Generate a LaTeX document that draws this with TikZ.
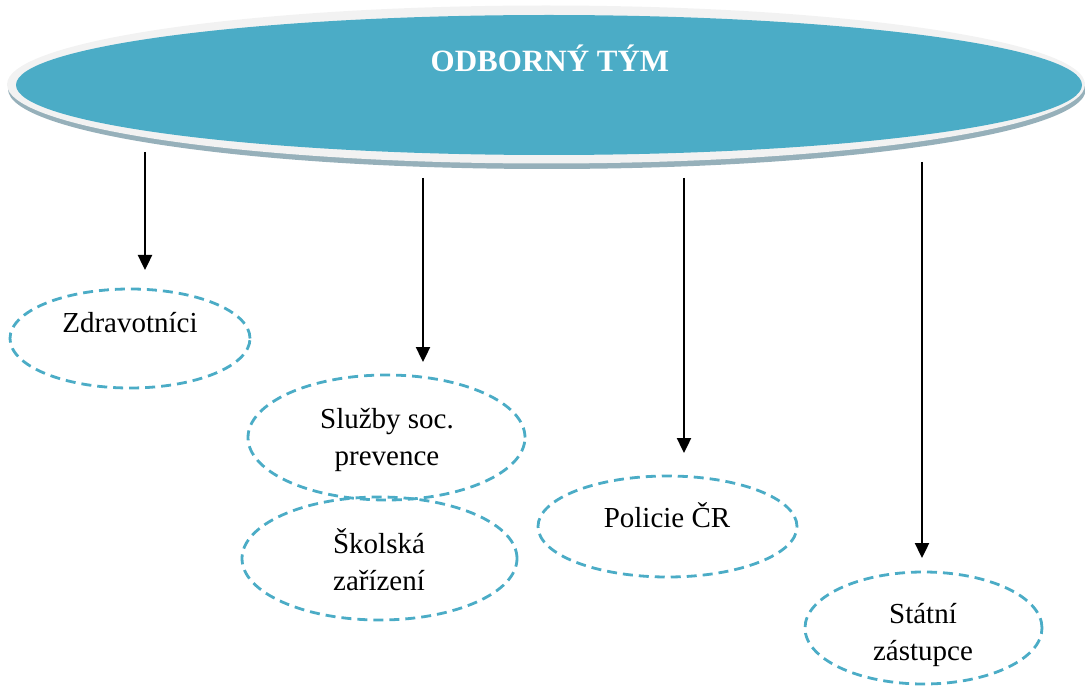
\documentclass[tikz,border=0pt]{standalone}
\usepackage{fontspec}
\setmainfont{Liberation Serif}
\usetikzlibrary{arrows.meta,shapes.geometric}
\definecolor{teal5}{RGB}{75,172,198}
\definecolor{rimlight}{RGB}{242,242,242}
\definecolor{rimshadow}{RGB}{150,176,186}
\tikzset{
  conn/.style={line width=2.4pt,-{Triangle[length=15pt,width=14pt]}},
  member/.style={ellipse,draw=teal5,line width=2.8pt,dash pattern=on 10pt off 6pt,inner sep=0pt},
  lbl/.style={font=\fontsize{29}{37}\selectfont,align=center,anchor=base,inner sep=0pt},
}
\begin{document}
\begin{tikzpicture}[x=1pt,y=-1pt]
\useasboundingbox (0,0) rectangle (1085,687);
% main ellipse with rim and shadow
\fill[rimshadow] (547,89) ellipse [x radius=539,y radius=80];
\fill[rimlight] (546,84.5) ellipse [x radius=539,y radius=79];
\node[ellipse,fill=teal5,inner sep=0pt,minimum width=1066pt,minimum height=140pt] (team) at (549,85) {};
\node[font=\fontsize{31}{37}\selectfont\bfseries,text=white,anchor=base,inner sep=0pt] (teamt) at (550,72) {ODBORNÝ TÝM};
% members
\node[member,minimum width=240pt,minimum height=99pt] (zdr) at (130,338.5) {};
\node[lbl] (zdrt) at (130,332) {Zdravotníci};
\node[member,minimum width=277pt,minimum height=125pt] (sluz) at (386.5,437.5) {};
\node[lbl] (sluzt) at (387,465) {Služby soc.\\prevence};
\node[member,minimum width=275pt,minimum height=123pt] (skol) at (379.5,558.5) {};
\node[lbl] (skolt) at (379,590) {Školská\\zařízení};
\node[member,minimum width=259pt,minimum height=101pt] (pol) at (667.5,526.5) {};
\node[lbl] (polt) at (667,527) {Policie ČR};
\node[member,minimum width=237pt,minimum height=112pt] (stat) at (923.5,628) {};
\node[lbl] (statt) at (923,660) {Státní\\zástupce};
% connectors
\coordinate (s1) at (145,152); \coordinate (e1) at (145,270);
\coordinate (s2) at (423,178); \coordinate (e2) at (423,362);
\coordinate (s3) at (684,178); \coordinate (e3) at (684,453);
\coordinate (s4) at (922,162); \coordinate (e4) at (922,558);
\draw[conn] (s1) -- (e1);
\draw[conn] (s2) -- (e2);
\draw[conn] (s3) -- (e3);
\draw[conn] (s4) -- (e4);
\end{tikzpicture}
\end{document}
